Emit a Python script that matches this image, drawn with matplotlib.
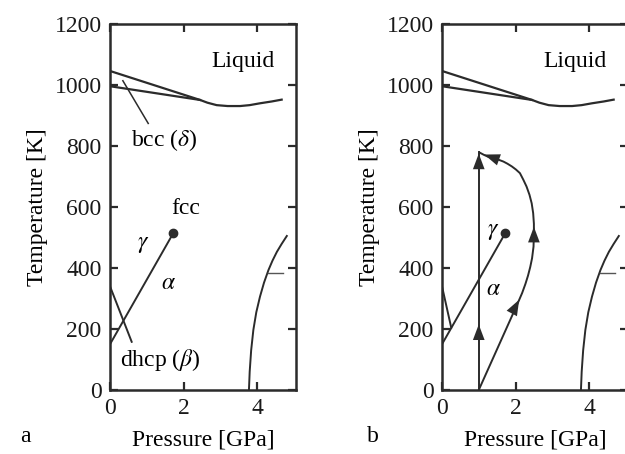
import matplotlib
matplotlib.use("Agg")
import matplotlib.pyplot as plt

plt.rcParams['font.family'] = 'serif'
plt.rcParams['font.serif'] = ['Liberation Serif', 'DejaVu Serif']
plt.rcParams['mathtext.fontset'] = 'stix'

# Data (pressure [GPa], temperature [K]) ----------------------------------------------------------------------------
melt_p = [0.0, 2.45, 2.65, 2.90, 3.20, 3.54, 3.80, 4.08, 4.40, 4.67]
melt_t = [1046, 951, 942, 934, 931, 931, 934, 940, 946, 952]
bcc_fcc_p = [0.0, 2.45]
bcc_fcc_t = [996, 951]
alpha_gamma_p = [0.0, 1.72]
alpha_gamma_t = [150, 514]
critical_p = [1.72]
critical_t = [514]
dhcp_p = [0.0, 0.59]
dhcp_t = [340, 158]
dhcp_short_p = [0.0, 0.25]
dhcp_short_t = [340, 205]
right_p = [3.78, 3.80, 3.84, 3.90, 3.98, 4.08, 4.19, 4.31, 4.42, 4.54, 4.67, 4.81]
right_t = [0, 60, 130, 197, 255, 306, 352, 393, 424, 453, 479, 505]
right_tick_p = [4.31, 4.70]
right_tick_t = [385, 385]
bcc_leader_p = [0.35, 1.04]
bcc_leader_t = [1014, 874]

# paths in panel b
path1_p = [1.0, 1.0]
path1_t = [0, 780]
path2_p = [1.0, 2.08, 2.18, 2.27, 2.34, 2.40, 2.45, 2.49, 2.50, 2.50, 2.48, 2.44, 2.38, 2.30, 2.21, 2.12,
           2.01, 1.90, 1.78, 1.67, 1.56, 1.45, 1.35, 1.25, 1.14, 1.03]
path2_t = [0, 290, 318, 348, 375, 403, 432, 470, 514, 545, 580, 612, 640, 667, 690, 711,
           723, 733, 742, 749, 754, 759, 762, 765, 771, 778]
# arrows: tail -> tip
arrow_tail_p = [1.0, 1.0, 1.93, 2.50, 1.45]
arrow_tail_t = [150, 710, 258, 460, 759]
arrow_tip_p = [1.0, 1.0, 2.10, 2.50, 1.15]
arrow_tip_t = [215, 775, 296, 535, 772]

xticks = [0, 2, 4]
yticks = [0, 200, 400, 600, 800, 1000, 1200]
# ---------------------------------------------------------------------------------------------------------------------

lc = '#2b2b2b'
fs = 17

fig = plt.figure(figsize=(6.25, 4.54), dpi=100)
axa = fig.add_axes([110 / 625, 64 / 454, 186 / 625, 366 / 454])
axb = fig.add_axes([442 / 625, 64 / 454, 186 / 625, 366 / 454])

for ax in (axa, axb):
    ax.plot(melt_p, melt_t, color=lc, lw=1.6)
    ax.plot(bcc_fcc_p, bcc_fcc_t, color=lc, lw=1.6)
    ax.plot(alpha_gamma_p, alpha_gamma_t, color=lc, lw=1.4)
    ax.plot(critical_p, critical_t, 'o', color=lc, ms=6)
    ax.plot(right_p, right_t, color=lc, lw=1.4, clip_on=False)
    ax.plot(right_tick_p, right_tick_t, color='#555555', lw=1.0)
    ax.text(3.62, 1076, 'Liquid', fontsize=fs, ha='center', va='center')
    ax.set_xlim(0, 5.06)
    ax.set_ylim(0, 1200)
    ax.set_xticks(xticks)
    ax.set_yticks(yticks)
    ax.tick_params(direction='in', top=True, right=True, length=6, width=1.6, labelsize=fs, pad=6, colors=lc)
    ax.tick_params(labelcolor='#1a1a1a')
    for s in ax.spines.values():
        s.set_linewidth(1.8)
        s.set_color(lc)
    ax.set_xlabel('Pressure [GPa]', fontsize=fs, labelpad=7)
    ax.set_ylabel('Temperature [K]', fontsize=fs, labelpad=5)

# panel a
axa.plot(dhcp_p, dhcp_t, color=lc, lw=1.4)
axa.plot(bcc_leader_p, bcc_leader_t, color=lc, lw=1.1)
axa.text(1.47, 820, r'bcc ($\delta$)', fontsize=fs, ha='center', va='center')
axa.text(2.07, 596, 'fcc', fontsize=fs, ha='center', va='center')
axa.text(0.91, 478, r'$\gamma$', fontsize=fs, ha='center', va='center')
axa.text(1.59, 350, r'$\alpha$', fontsize=fs, ha='center', va='center')
axa.text(1.36, 98, r'dhcp ($\beta$)', fontsize=fs, ha='center', va='center')

# panel b
axb.plot(dhcp_short_p, dhcp_short_t, color=lc, lw=1.4)
axb.plot(path1_p, path1_t, color=lc, lw=1.4)
axb.plot(path2_p, path2_t, color=lc, lw=1.4)
for i in range(len(arrow_tip_p)):
    axb.annotate('', xy=(arrow_tip_p[i], arrow_tip_t[i]), xytext=(arrow_tail_p[i], arrow_tail_t[i]),
                 arrowprops=dict(arrowstyle='-|>,head_length=0.8,head_width=0.3', color=lc, lw=0.01,
                                 mutation_scale=14, shrinkA=0, shrinkB=0))
axb.text(1.40, 519, r'$\gamma$', fontsize=fs, ha='center', va='center')
axb.text(1.40, 328, r'$\alpha$', fontsize=fs, ha='center', va='center')

fig.text(25 / 625, 1 - 436 / 454, 'a', fontsize=fs, ha='center', va='center')
fig.text(373 / 625, 1 - 436 / 454, 'b', fontsize=fs, ha='center', va='center')

fig.savefig('out.png', dpi=100)
